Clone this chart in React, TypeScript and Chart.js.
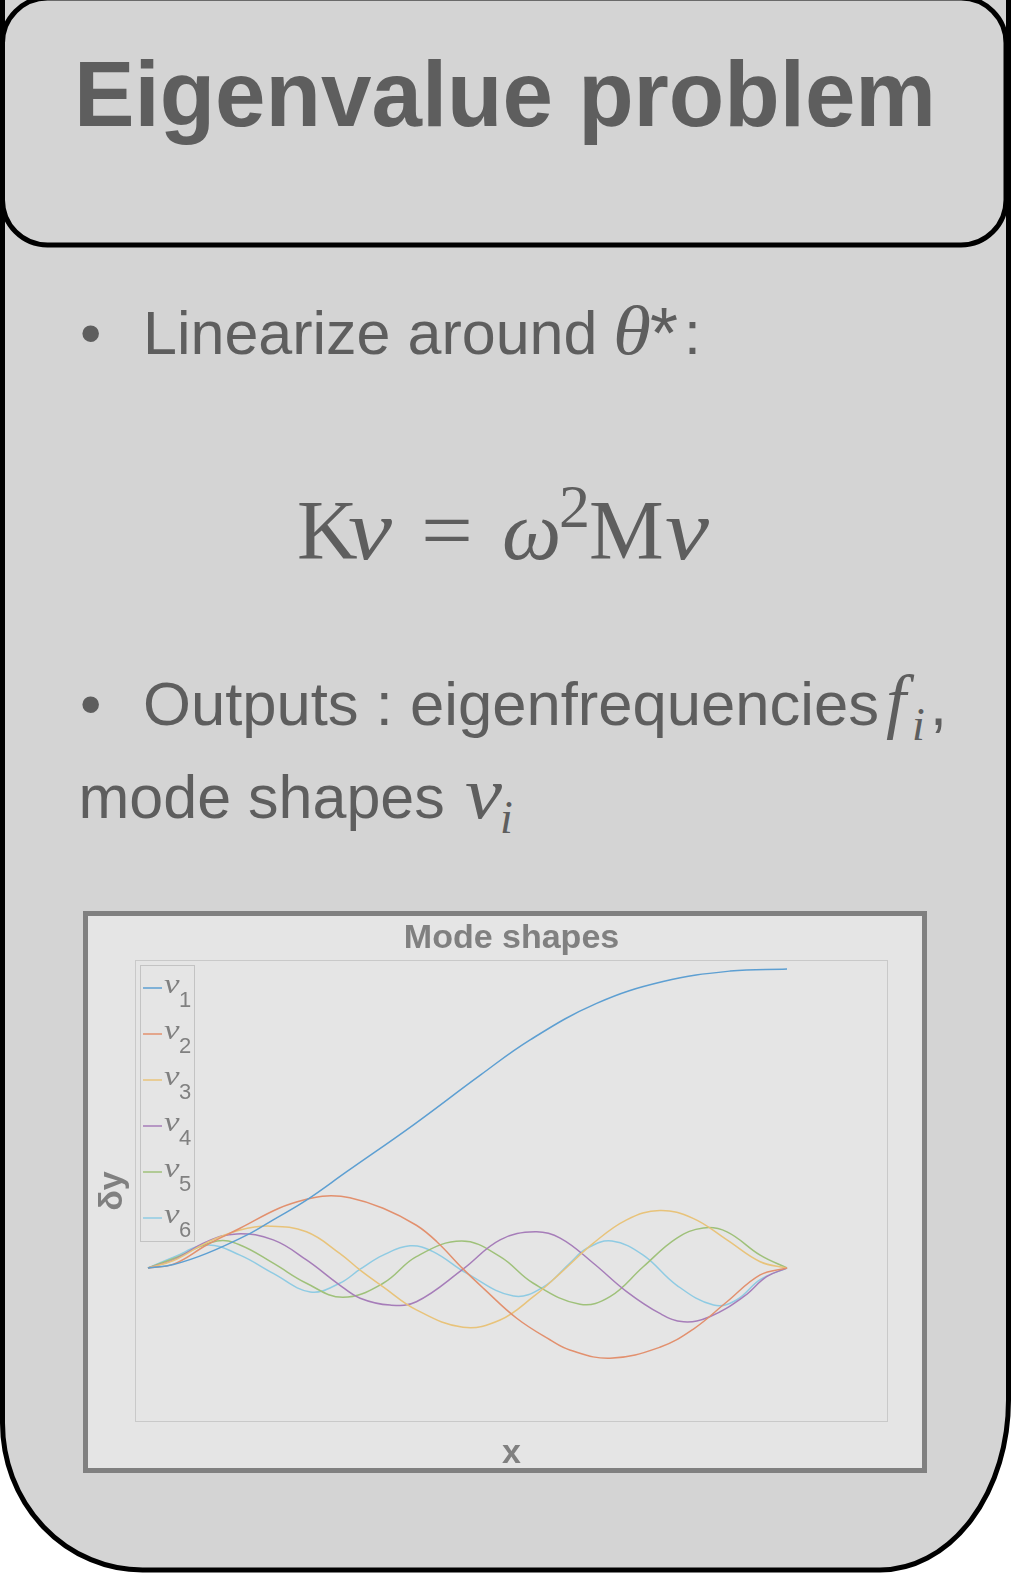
import React, { useEffect, useRef } from "react";
import { Chart, registerables } from "chart.js";

Chart.register(...registerables);

// ---------- data (x along the beam, normalised 0..1; δy normalised) ----------
const modeNames = ["1", "2", "3", "4", "5", "6"];
const modeColors = ["#5d9fd2", "#e2906e", "#e8c37a", "#a67db9", "#9fc17a", "#8fcbe3"];

const mode1X = [0, 0.04, 0.092, 0.16, 0.196, 0.248, 0.311, 0.415, 0.52, 0.598, 0.702, 0.806, 0.911, 1];
const mode1Y = [0, 0.012, 0.049, 0.116, 0.161, 0.227, 0.322, 0.478, 0.645, 0.763, 0.885, 0.958, 0.993, 1];

const mode2X = [0, 0.04, 0.092, 0.144, 0.205, 0.248, 0.28, 0.316, 0.368, 0.42, 0.452, 0.493, 0.525, 0.577, 0.629, 0.66, 0.723, 0.801, 0.853, 0.906, 0.958, 1];
const mode2Y = [0, 0.013, 0.077, 0.133, 0.2, 0.23, 0.241, 0.235, 0.2, 0.143, 0.088, -0.003, -0.068, -0.168, -0.24, -0.274, -0.302, -0.265, -0.205, -0.113, -0.023, 0];

const mode3X = [0, 0.04, 0.092, 0.144, 0.191, 0.248, 0.3, 0.332, 0.368, 0.42, 0.493, 0.551, 0.603, 0.645, 0.697, 0.749, 0.801, 0.853, 0.906, 0.958, 1];
const mode3Y = [0, 0.025, 0.085, 0.127, 0.14, 0.121, 0.049, -0.007, -0.063, -0.14, -0.198, -0.174, -0.096, -0.018, 0.083, 0.161, 0.192, 0.166, 0.094, 0.021, 0];

const mode4X = [0, 0.04, 0.092, 0.139, 0.196, 0.248, 0.3, 0.332, 0.379, 0.42, 0.493, 0.551, 0.606, 0.645, 0.697, 0.749, 0.801, 0.838, 0.879, 0.932, 0.968, 1];
const mode4Y = [0, 0.027, 0.088, 0.114, 0.094, 0.027, -0.057, -0.101, -0.124, -0.113, -0.004, 0.094, 0.121, 0.1, 0.016, -0.079, -0.152, -0.18, -0.163, -0.096, -0.029, 0];

const mode5X = [0, 0.04, 0.108, 0.144, 0.196, 0.248, 0.305, 0.368, 0.42, 0.491, 0.551, 0.603, 0.676, 0.723, 0.775, 0.827, 0.869, 0.906, 0.958, 1];
const mode5Y = [0, 0.032, 0.09, 0.077, 0.016, -0.051, -0.098, -0.051, 0.038, 0.09, 0.038, -0.051, -0.121, -0.096, 0.004, 0.099, 0.134, 0.121, 0.043, 0];

const mode6X = [0, 0.04, 0.092, 0.144, 0.196, 0.254, 0.3, 0.332, 0.368, 0.41, 0.446, 0.499, 0.572, 0.619, 0.66, 0.687, 0.726, 0.775, 0.827, 0.885, 0.921, 0.958, 1];
const mode6Y = [0, 0.036, 0.077, 0.043, -0.018, -0.08, -0.051, -0.004, 0.043, 0.074, 0.055, -0.018, -0.094, -0.063, 0.016, 0.066, 0.09, 0.043, -0.057, -0.124, -0.107, -0.039, 0];

const modeXs = [mode1X, mode2X, mode3X, mode4X, mode5X, mode6X];
const modeYs = [mode1Y, mode2Y, mode3Y, mode4Y, mode5Y, mode6Y];

const xMin = -0.0203;
const xMax = 1.158;
const yMin = -0.515;
const yMax = 1.03;

const chartTitle = "Mode shapes";
const xTitle = "x";
const yTitle = "δy";

const SANS = '"Liberation Sans", Arial, Helvetica, sans-serif';
const SERIF = '"Liberation Serif", "Times New Roman", serif';
const TEXT = "#5e5e5e";
const CHART_TEXT = "#808080";

const decorPlugin = {
  id: "decor",
  beforeDatasetsDraw(chart: any) {
    const { ctx, chartArea: a } = chart;
    ctx.save();
    ctx.strokeStyle = "#c9c9c9";
    ctx.lineWidth = 1;
    ctx.strokeRect(Math.round(a.left) + 0.5, Math.round(a.top) + 0.5, Math.round(a.right - a.left) - 1, Math.round(a.bottom - a.top) - 1);
    ctx.restore();
  },
  afterDatasetsDraw(chart: any) {
    const { ctx, chartArea: a } = chart;
    ctx.save();
    // titles
    ctx.fillStyle = CHART_TEXT;
    ctx.font = `bold 34px ${SANS}`;
    ctx.textAlign = "center";
    ctx.textBaseline = "alphabetic";
    const cx = (a.left + a.right) / 2;
    ctx.fillText(chartTitle, cx, a.top - 12);
    ctx.fillText(xTitle, cx, a.bottom + 41);
    ctx.save();
    ctx.translate(a.left - 13, (a.top + a.bottom) / 2);
    ctx.rotate(-Math.PI / 2);
    ctx.fillText(yTitle, 0, 0);
    ctx.restore();

    // legend
    const bx = Math.round(a.left) + 5;
    const by = Math.round(a.top) + 5;
    const bw = 54;
    const bh = 276;
    ctx.strokeStyle = "#c3c3c3";
    ctx.lineWidth = 1;
    ctx.strokeRect(bx + 0.5, by + 0.5, bw, bh);
    ctx.textAlign = "left";
    chart.data.datasets.forEach((ds: any, i: number) => {
      const ly = by + 23 + 46 * i;
      ctx.strokeStyle = ds.borderColor;
      ctx.lineWidth = 1.5;
      ctx.beginPath();
      ctx.moveTo(bx + 3, ly);
      ctx.lineTo(bx + 22, ly);
      ctx.stroke();
      ctx.fillStyle = CHART_TEXT;
      ctx.font = `italic 28px ${SERIF}`;
      ctx.save();
      ctx.translate(bx + 24, ly + 5);
      ctx.scale(1.25, 1);
      ctx.fillText("ν", 0, 0);
      ctx.restore();
      ctx.font = `22px ${SANS}`;
      ctx.fillText(modeNames[i], bx + 39, ly + 19);
    });
    ctx.restore();
  },
};

export default function App() {
  const ref = useRef<HTMLCanvasElement>(null);

  useEffect(() => {
    const canvas = ref.current;
    if (!canvas) return;
    const chart = new Chart(canvas, {
      type: "line",
      data: {
        datasets: modeNames.map((n, i) => ({
          label: "ν" + n,
          data: modeXs[i].map((x, j) => ({ x, y: modeYs[i][j] })),
          borderColor: modeColors[i],
          backgroundColor: modeColors[i],
          borderWidth: 1.5,
          pointRadius: 0,
          fill: false,
          tension: 0.4,
        })),
      },
      options: {
        animation: false,
        responsive: false,
        devicePixelRatio: 1,
        layout: { padding: { left: 47, top: 44, right: 34, bottom: 46 } },
        scales: {
          x: { type: "linear", min: xMin, max: xMax, display: false },
          y: { type: "linear", min: yMin, max: yMax, display: false },
        },
        plugins: {
          legend: { display: false },
          tooltip: { enabled: false },
          title: { display: false },
        },
        events: [],
      },
      plugins: [decorPlugin],
    });
    return () => chart.destroy();
  }, []);

  return (
    <div style={{ position: "absolute", left: 0, top: 0, width: 1011, height: 1579, background: "#ffffff", overflow: "hidden" }}>
      <svg width={1011} height={1579} style={{ position: "absolute", left: 0, top: 0 }}>
        <path
          d="M 2.5 -20 L 2.5 1423 A 140 147 0 0 0 142.5 1570 L 880 1570 A 128.5 170 0 0 0 1008.5 1400 L 1008.5 -20 Z"
          fill="#d4d4d4"
          stroke="#000"
          strokeWidth={5}
        />
        <rect x={2.5} y={-2} width={1003.5} height={247} rx={45} ry={45} fill="#d4d4d4" stroke="#000" strokeWidth={5} />
        <text x={74} y={126} fill={TEXT} fontFamily={SANS} fontWeight="bold" fontSize={93} textLength={862} lengthAdjust="spacingAndGlyphs">
          Eigenvalue problem
        </text>

        {/* bullet 1 */}
        <text x={80} y={354} fill={TEXT} fontFamily={SANS} fontSize={61}>•</text>
        <text x={143} y={354} fill={TEXT} fontFamily={SANS} fontSize={61}>Linearize around</text>
        <text x={613} y={354} fill={TEXT} fontFamily={SERIF} fontStyle="italic" fontSize={70} textLength={38} lengthAdjust="spacingAndGlyphs">θ</text>
        <text x={650} y={358} fill={TEXT} fontFamily={SANS} fontSize={72}>*</text>
        <text x={684} y={354} fill={TEXT} fontFamily={SANS} fontSize={61}>:</text>

        {/* equation */}
        <text x={297} y={559} fill={TEXT} fontFamily={SERIF} fontSize={84}>K</text>
        <text x={348} y={559} fill={TEXT} fontFamily={SERIF} fontStyle="italic" fontSize={86} textLength={44} lengthAdjust="spacingAndGlyphs">ν</text>
        <text x={421} y={559} fill={TEXT} fontFamily={SERIF} fontSize={84} textLength={52} lengthAdjust="spacingAndGlyphs">=</text>
        <text x={502} y={559} fill={TEXT} fontFamily={SERIF} fontStyle="italic" fontSize={84}>ω</text>
        <text x={559} y={527} fill={TEXT} fontFamily={SERIF} fontSize={62}>2</text>
        <text x={589} y={559} fill={TEXT} fontFamily={SERIF} fontSize={84}>M</text>
        <text x={665} y={559} fill={TEXT} fontFamily={SERIF} fontStyle="italic" fontSize={86} textLength={44} lengthAdjust="spacingAndGlyphs">ν</text>

        {/* bullet 2 */}
        <text x={80} y={725} fill={TEXT} fontFamily={SANS} fontSize={61}>•</text>
        <text x={143} y={725} fill={TEXT} fontFamily={SANS} fontSize={61} textLength={736} lengthAdjust="spacingAndGlyphs">Outputs : eigenfrequencies</text>
        <text x={886} y={725} fill={TEXT} fontFamily={SERIF} fontStyle="italic" fontSize={72}>f</text>
        <text x={912} y={740} fill={TEXT} fontFamily={SERIF} fontStyle="italic" fontSize={46}>i</text>
        <text x={930} y={725} fill={TEXT} fontFamily={SANS} fontSize={61}>,</text>
        <text x={78.5} y={818} fill={TEXT} fontFamily={SANS} fontSize={61}>mode shapes</text>
        <text x={465} y={818} fill={TEXT} fontFamily={SERIF} fontStyle="italic" fontSize={74} textLength={37} lengthAdjust="spacingAndGlyphs">ν</text>
        <text x={500} y={833} fill={TEXT} fontFamily={SERIF} fontStyle="italic" fontSize={46}>i</text>
      </svg>
      <div
        style={{
          position: "absolute",
          left: 83,
          top: 911,
          width: 844,
          height: 562,
          boxSizing: "border-box",
          border: "5px solid #808080",
          background: "#e5e5e5",
        }}
      />
      <canvas ref={ref} width={834} height={552} style={{ position: "absolute", left: 88, top: 916, width: 834, height: 552 }} />
    </div>
  );
}
